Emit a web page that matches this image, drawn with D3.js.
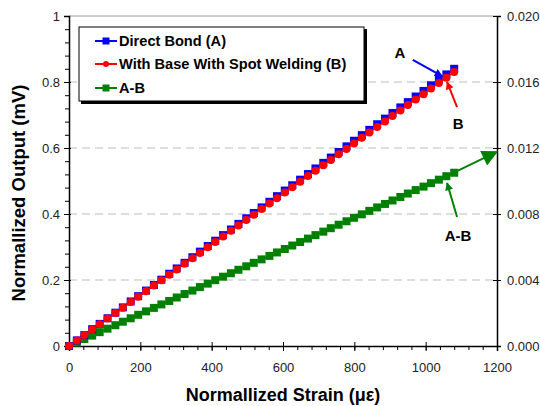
<!DOCTYPE html>
<html>
<head>
<meta charset="utf-8">
<script src="https://cdn.jsdelivr.net/npm/d3@7"></script>
<style>
  body { margin: 0; background: #fff; }
  text { font-family: Arial, "Liberation Sans", sans-serif; }
</style>
</head>
<body>
<div id="chart"></div>
<script>
// Strain (µε) for every sample
var strain = [0, 22, 43, 65, 86, 108, 130, 151, 173, 194, 216, 238, 259, 281, 302, 324, 346, 367, 389, 410,
              432, 454, 475, 497, 518, 540, 562, 583, 605, 626, 648, 670, 691, 713, 734, 756, 778, 799, 821, 842,
              864, 886, 907, 929, 950, 972, 994, 1015, 1037, 1058, 1080];

// Direct Bond (A), left axis (mV)
var directBond = [0.000, 0.017, 0.033, 0.051, 0.067, 0.084, 0.101, 0.117, 0.135, 0.151, 0.168, 0.185, 0.201, 0.219,
                  0.235, 0.252, 0.269, 0.286, 0.303, 0.319, 0.336, 0.353, 0.370, 0.387, 0.403, 0.420, 0.437, 0.454,
                  0.471, 0.487, 0.504, 0.521, 0.538, 0.555, 0.571, 0.588, 0.605, 0.622, 0.639, 0.655, 0.672, 0.689,
                  0.706, 0.723, 0.739, 0.756, 0.773, 0.790, 0.807, 0.823, 0.840];

// With Base With Spot Welding (B), left axis (mV)
var spotWeld = [0.000, 0.017, 0.033, 0.050, 0.066, 0.083, 0.100, 0.116, 0.133, 0.149, 0.166, 0.183, 0.199, 0.216,
                0.232, 0.249, 0.266, 0.282, 0.299, 0.315, 0.332, 0.349, 0.365, 0.382, 0.398, 0.415, 0.432, 0.448,
                0.465, 0.481, 0.498, 0.515, 0.531, 0.548, 0.564, 0.581, 0.597, 0.614, 0.631, 0.647, 0.664, 0.680,
                0.697, 0.714, 0.730, 0.747, 0.763, 0.780, 0.797, 0.813, 0.830];

// A-B, right axis (mV)
var diffAB = [0.00000, 0.00021, 0.00042, 0.00063, 0.00084, 0.00105, 0.00126, 0.00147, 0.00168, 0.00189, 0.00210,
              0.00231, 0.00252, 0.00273, 0.00294, 0.00315, 0.00336, 0.00357, 0.00378, 0.00399, 0.00420, 0.00441,
              0.00462, 0.00483, 0.00504, 0.00525, 0.00546, 0.00567, 0.00588, 0.00609, 0.00630, 0.00651, 0.00672,
              0.00693, 0.00714, 0.00735, 0.00756, 0.00777, 0.00798, 0.00819, 0.00840, 0.00861, 0.00882, 0.00903,
              0.00924, 0.00945, 0.00966, 0.00987, 0.01008, 0.01029, 0.01050];

// Tick values
var xTicks = [0, 200, 400, 600, 800, 1000, 1200];
var yTicks = [0, 0.2, 0.4, 0.6, 0.8, 1];
var y2Ticks = [0, 0.004, 0.008, 0.012, 0.016, 0.020];
var gridTicks = [0.2, 0.4, 0.6, 0.8];

var legendNames = ["Direct Bond (A)", "With Base With Spot Welding (B)", "A-B"];

var width = 540, height = 406;
var plotLeft = 69, plotRight = 497, plotTop = 16, plotBottom = 346;

var svg = d3.select("#chart").append("svg")
            .attr("width", width)
            .attr("height", height);

var x = d3.scaleLinear().domain([0, 1200]).range([plotLeft, plotRight]);
var y = d3.scaleLinear().domain([0, 1]).range([plotBottom, plotTop]);
var y2 = d3.scaleLinear().domain([0, 0.02]).range([plotBottom, plotTop]);

// Gridlines
svg.append("g").selectAll("line")
   .data(gridTicks)
   .enter().append("line")
   .attr("x1", plotLeft).attr("x2", plotRight)
   .attr("y1", function(d) { return y(d); })
   .attr("y2", function(d) { return y(d); })
   .attr("stroke", "#bdbdbd")
   .attr("stroke-width", 1)
   .attr("stroke-dasharray", "8,5");

// Top frame line
svg.append("line")
   .attr("x1", plotLeft).attr("x2", plotRight)
   .attr("y1", plotTop).attr("y2", plotTop)
   .attr("stroke", "#9a9a9a").attr("stroke-width", 1);

// Minor ticks
var minorX = d3.range(0, 1201, 40);
var minorY = d3.range(0, 1.001, 0.04);

svg.append("g").attr("transform", "translate(0," + plotBottom + ")")
   .call(d3.axisBottom(x).tickValues(minorX).tickSize(4).tickFormat(""))
   .call(function(g) { g.select(".domain").remove(); });

svg.append("g").attr("transform", "translate(" + plotLeft + ",0)")
   .call(d3.axisLeft(y).tickValues(minorY).tickSize(4).tickFormat(""))
   .call(function(g) { g.select(".domain").remove(); });

// Major axes
var xAxis = svg.append("g").attr("transform", "translate(0," + plotBottom + ")")
   .call(d3.axisBottom(x).tickValues(xTicks).tickSizeOuter(0).tickSize(5).tickPadding(12)
           .tickFormat(d3.format("d")));

var yAxis = svg.append("g").attr("transform", "translate(" + plotLeft + ",0)")
   .call(d3.axisLeft(y).tickValues(yTicks).tickSizeOuter(0).tickSize(5).tickPadding(4)
           .tickFormat(function(d) { return d === 0 || d === 1 ? d : d3.format(".1f")(d); }));

var y2Axis = svg.append("g").attr("transform", "translate(" + plotRight + ",0)")
   .call(d3.axisRight(y2).tickValues(y2Ticks).tickSizeOuter(0).tickSize(4).tickPadding(6)
           .tickFormat(d3.format(".3f")));

// the major ticks cross the axis line
xAxis.selectAll(".tick line").attr("y1", -4);
y2Axis.selectAll(".tick line").attr("x1", -4);
yAxis.selectAll(".tick line").attr("x1", -5).attr("x2", 2);

[xAxis, yAxis, y2Axis].forEach(function(g) {
  g.selectAll(".tick text").attr("font-size", "13px").attr("fill", "#222")
   .attr("font-family", "Arial, 'Liberation Sans', sans-serif");
  g.select(".domain").attr("stroke-width", 1.5);
});
yAxis.selectAll(".tick").filter(function(d) { return d === 1; }).select("line").attr("x2", 0);

svg.selectAll(".tick line").attr("stroke", "#000");

// Series
var rows = strain.map(function(s, i) {
  return { s: s, a: directBond[i], b: spotWeld[i], ab: diffAB[i] };
});

function drawLine(key, scale, colour) {
  svg.append("path")
     .datum(rows)
     .attr("fill", "none")
     .attr("stroke", colour)
     .attr("stroke-width", 1.5)
     .attr("d", d3.line().x(function(d) { return x(d.s); })
                         .y(function(d) { return scale(d[key]); }));
}

drawLine("ab", y2, "#008000");
svg.append("g").selectAll("rect")
   .data(rows).enter().append("rect")
   .attr("x", function(d) { return x(d.s) - 4; })
   .attr("y", function(d) { return y2(d.ab) - 4; })
   .attr("width", 8).attr("height", 8)
   .attr("fill", "#008000");

drawLine("a", y, "#0000ff");
svg.append("g").selectAll("rect")
   .data(rows).enter().append("rect")
   .attr("x", function(d) { return x(d.s) - 4; })
   .attr("y", function(d) { return y(d.a) - 4; })
   .attr("width", 8).attr("height", 8)
   .attr("fill", "#0000ff");

drawLine("b", y, "#ff0000");
svg.append("g").selectAll("circle")
   .data(rows).enter().append("circle")
   .attr("cx", function(d) { return x(d.s); })
   .attr("cy", function(d) { return y(d.b); })
   .attr("r", 4)
   .attr("fill", "#ff0000");

// Annotation arrows
var defs = svg.append("defs");
function marker(id, colour, w, h) {
  defs.append("marker")
      .attr("id", id)
      .attr("viewBox", "0 0 10 10")
      .attr("refX", 9).attr("refY", 5)
      .attr("markerUnits", "userSpaceOnUse")
      .attr("markerWidth", w).attr("markerHeight", h)
      .attr("orient", "auto")
      .append("path").attr("d", "M0,0 L10,5 L0,10 Z").attr("fill", colour);
}
marker("headBlue", "#0000ff", 9, 8);
marker("headRed", "#ff0000", 9, 8);
marker("headGreen", "#008000", 9, 8);
marker("headGreenBig", "#008000", 18, 16);

var arrows = [
  { from: [964, 0.867], to: [1046, 0.818], colour: "#0000ff", head: "headBlue" },
  { from: [1088, 0.724], to: [1060, 0.800], colour: "#ff0000", head: "headRed" },
  { from: [1088, 0.391], to: [1060, 0.494], colour: "#008000", head: "headGreen" },
  { from: [1082, 0.527], to: [1199, 0.588], colour: "#008000", head: "headGreenBig" }
];

svg.append("g").selectAll("line")
   .data(arrows).enter().append("line")
   .attr("x1", function(d) { return x(d.from[0]); })
   .attr("y1", function(d) { return y(d.from[1]); })
   .attr("x2", function(d) { return x(d.to[0]); })
   .attr("y2", function(d) { return y(d.to[1]); })
   .attr("stroke", function(d) { return d.colour; })
   .attr("stroke-width", 2)
   .attr("marker-end", function(d) { return "url(#" + d.head + ")"; });

var notes = [
  { text: "A", s: 928, v: 0.873 },
  { text: "B", s: 1091, v: 0.658 },
  { text: "A-B", s: 1091, v: 0.318 }
];
svg.append("g").selectAll("text")
   .data(notes).enter().append("text")
   .attr("x", function(d) { return x(d.s); })
   .attr("y", function(d) { return y(d.v); })
   .attr("text-anchor", "middle")
   .attr("font-size", "15px")
   .attr("font-weight", "bold")
   .attr("fill", "#000")
   .text(function(d) { return d.text; });

// Legend
var legend = svg.append("g");
legend.append("rect").attr("x", 81).attr("y", 29).attr("width", 286).attr("height", 75).attr("fill", "#000");
legend.append("rect").attr("x", 79).attr("y", 27).attr("width", 285).attr("height", 74)
      .attr("fill", "#fff").attr("stroke", "#000").attr("stroke-width", 1);

var legendColours = ["#0000ff", "#ff0000", "#008000"];
var legendRows = legend.selectAll("g.item")
   .data(legendNames).enter().append("g")
   .attr("class", "item")
   .attr("transform", function(d, i) { return "translate(0," + [41, 64, 88][i] + ")"; });

legendRows.append("line")
   .attr("x1", 95).attr("x2", 117).attr("y1", 0).attr("y2", 0)
   .attr("stroke", function(d, i) { return legendColours[i]; })
   .attr("stroke-width", 2);
legendRows.each(function(d, i) {
  var g = d3.select(this);
  if (i === 1) {
    g.append("circle").attr("cx", 106).attr("cy", 0).attr("r", 3).attr("fill", legendColours[i]);
  } else {
    g.append("rect").attr("x", 102.5).attr("y", -3.5).attr("width", 7).attr("height", 7)
     .attr("fill", legendColours[i]);
  }
});
legendRows.append("text")
   .attr("x", 119).attr("y", 5)
   .attr("font-size", "14.6px")
   .attr("font-weight", "bold")
   .attr("fill", "#000")
   .text(function(d) { return d; });

// Axis titles
svg.append("text")
   .attr("x", (plotLeft + plotRight) / 2).attr("y", 401)
   .attr("text-anchor", "middle")
   .attr("font-size", "18px").attr("font-weight", "bold")
   .text("Normallized Strain (\u03bc\u03b5)");

svg.append("text")
   .attr("transform", "translate(25,193) rotate(-90)")
   .attr("text-anchor", "middle")
   .attr("font-size", "18.5px").attr("font-weight", "bold")
   .text("Normallized Output (mV)");
</script>
</body>
</html>
